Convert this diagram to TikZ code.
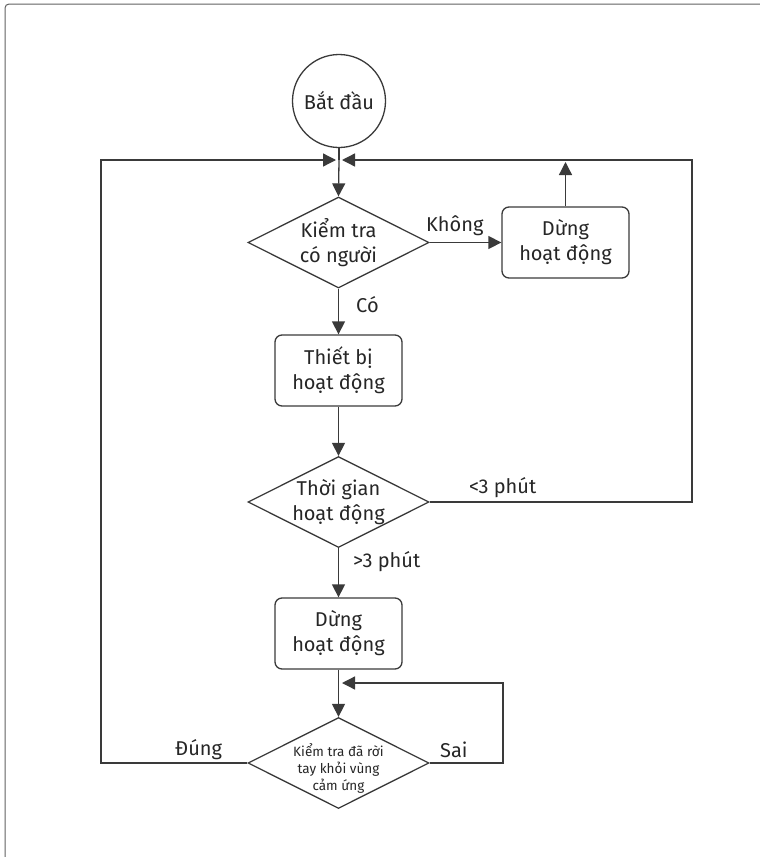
\documentclass[tikz,border=0pt]{standalone}
\usepackage{fontspec}
\setmainfont{Fira Sans}
\usetikzlibrary{arrows.meta,shapes.geometric,calc}
\definecolor{ink}{HTML}{3A3A3A}
\definecolor{txt}{HTML}{262626}
\begin{document}
\begin{tikzpicture}[x=1pt,y=-1pt,
  line/.style={draw=ink,line width=1.3pt},
  arr/.style={line,-{Triangle[length=13pt,width=13pt]}},
  boxnode/.style={draw=ink,line width=1.3pt,rounded corners=7pt,minimum width=127pt,minimum height=71pt,align=center,font=\fontsize{20}{25}\selectfont,text=txt,inner sep=0pt},
  dec/.style={draw=ink,line width=1.3pt,diamond,aspect=2,minimum width=181pt,minimum height=91pt,align=center,font=\fontsize{20}{25}\selectfont,text=txt,inner sep=-20pt},
  lbl/.style={font=\fontsize{20}{24}\selectfont,text=txt,inner sep=0pt,anchor=west}]
\useasboundingbox (0,0) rectangle (760,857);
\draw[draw=ink!80,line width=1pt,rounded corners=4pt] (5,900) -- (5,4) -- (800,4);
\node[circle,draw=ink,line width=1.3pt,minimum size=93pt,inner sep=0pt,font=\fontsize{20}{25}\selectfont,text=txt] (start) at (339,101) {Bắt đầu};
\coordinate (j1) at (339,160);
\node[dec] (d1) at (338.5,242.5) {Kiểm tra\\có người};
\node[boxnode] (stop1) at (565.5,242.5) {Dừng\\hoạt động};
\node[boxnode] (run) at (338.5,370.5) {Thiết bị\\hoạt động};
\node[dec] (d2) at (338.5,502) {Thời gian\\hoạt động};
\node[boxnode] (stop2) at (338.5,633.5) {Dừng\\hoạt động};
\node[dec] (d3) at (338.5,763) {};
\node[align=center,font=\fontsize{13.5}{17}\selectfont,text=txt,inner sep=0pt] (d3t) at ($(d3.center)+(0,6)$) {Kiểm tra đã rời\\tay khỏi vùng\\cảm ứng};
\coordinate (jL) at (336,160);
\coordinate (jR) at (342,160);
\coordinate (j3) at (342,683);
% main flow
\draw[line] (start) -- (j1);
\draw[arr] (j1) -- (d1.north);
\draw[arr] (d1.east) -- (stop1.west);
\draw[arr] (stop1.north) -- (565.5,162);
\draw[arr] (d1.south) -- (run.north);
\draw[arr] (run.south) -- (d2.north);
\draw[arr] (d2.south) -- (stop2.north);
\draw[arr] (stop2.south) -- (d3.north);
% loops
\draw[arr] (d2.east) -- (692,502) -- (692,160) -- (jR);
\draw[arr] (d3.west) -- (101,763) -- (101,160) -- (jL);
\draw[arr] (d3.east) -- (503,763) -- (503,683) -- (j3);
% labels
\node[lbl] (lk) at (426,226) {Không};
\node[lbl] (lc) at (356,305) {Có};
\node[lbl] (l3a) at (469,488) {<3 phút};
\node[lbl] (l3b) at (353,562) {>3 phút};
\node[lbl] (ld) at (175,750) {Đúng};
\node[lbl] (ls) at (440,750) {Sai};
\end{tikzpicture}
\end{document}
